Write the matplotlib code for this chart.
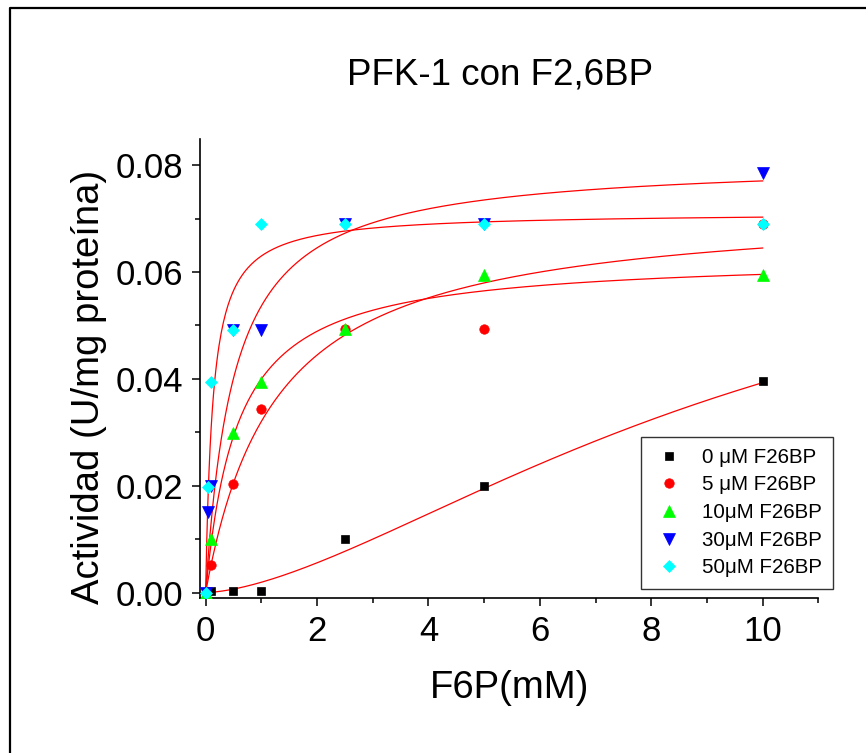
import numpy as np
import matplotlib
matplotlib.use('Agg')
import matplotlib.pyplot as plt
from matplotlib.lines import Line2D

plt.rcParams['font.family'] = ['Liberation Sans', 'DejaVu Sans']

# F6P concentrations (mM) and measured activity for each F2,6BP level
x_main = [0, 0.1, 0.5, 1, 2.5, 5, 10]
x_low = [0, 0.05, 0.1, 0.5, 1, 2.5, 5, 10]

act_0 = [0.0, 0.0003, 0.0003, 0.0003, 0.0101, 0.0199, 0.0396]
act_5 = [0.0, 0.0052, 0.0203, 0.0344, 0.0494, 0.0494, 0.069]
act_10 = [0.0, 0.0101, 0.0299, 0.0395, 0.0494, 0.0594, 0.0594]
act_30 = [0.0, 0.0151, 0.0199, 0.0491, 0.0491, 0.069, 0.069, 0.0786]
act_50 = [0.0, 0.0198, 0.0395, 0.0491, 0.069, 0.069, 0.069, 0.069]

labels = ['0 \u03bcM F26BP', '5 \u03bcM F26BP', '10\u03bcM F26BP',
          '30\u03bcM F26BP', '50\u03bcM F26BP']

# Hill fit parameters (0, 5, 10, 30, 50 uM)
fit_vmax = [0.0786, 0.0727, 0.063, 0.081, 0.0712]
fit_k = [10.0, 1.27, 0.576, 0.51, 0.13]
fit_n = [1.6, 1.0, 1.0, 1.0, 1.0]

fig = plt.figure(figsize=(8.66, 7.53), dpi=100)
ax = fig.add_axes([0.231, 0.206, 0.714, 0.61])

# fitted curves
xx = np.linspace(0, 10, 500)
for v, k, n in zip(fit_vmax, fit_k, fit_n):
    yy = v * xx**n / (k**n + xx**n)
    ax.plot(xx, yy, color='red', lw=0.9, zorder=2)

ax.plot(x_main, act_0, 's', color='black', ms=6, mew=0.5, label=labels[0], zorder=3)
ax.plot(x_main, act_5, 'o', color='red', ms=6.8, mew=0.5, label=labels[1], zorder=3)
ax.plot(x_main, act_10, '^', color='#00ff00', ms=8.5, mew=0.5, label=labels[2], zorder=3)
ax.plot(x_low, act_30, 'v', color='blue', ms=8.5, mew=0.5, label=labels[3], zorder=3)
ax.plot(x_low, act_50, 'D', color='cyan', ms=6.2, mew=0.5, label=labels[4], zorder=3)

ax.set_xlim(-0.1, 11)
ax.set_ylim(-0.001, 0.085)
ax.set_xticks([0, 2, 4, 6, 8, 10])
ax.set_xticks([1, 3, 5, 7, 9, 11], minor=True)
ax.set_yticks([0, 0.02, 0.04, 0.06, 0.08])
ax.set_yticks([0.01, 0.03, 0.05, 0.07], minor=True)
ax.set_yticklabels(['0.00', '0.02', '0.04', '0.06', '0.08'])

for s in ['top', 'right']:
    ax.spines[s].set_visible(False)
for s in ['left', 'bottom']:
    ax.spines[s].set_linewidth(1.2)

ax.tick_params(which='major', length=6, width=1.1, labelsize=25, pad=6)
ax.tick_params(which='minor', length=3.5, width=1.1)

ax.set_xlabel('F6P(mM)', fontsize=27.5, labelpad=16)
ax.set_ylabel('Actividad (U/mg proteína)', fontsize=27.5, labelpad=6)
ax.yaxis.label.set_y(0.46)
fig.text(0.577, 0.9, 'PFK-1 con F2,6BP', fontsize=26.5, ha='center', va='center')

leg = ax.legend(loc='lower right', bbox_to_anchor=(1.024, 0.02), fontsize=14.8,
                frameon=True, fancybox=False, edgecolor='black',
                handletextpad=0.8, labelspacing=0.42, borderpad=0.55,
                handlelength=1.6, borderaxespad=0)
leg.get_frame().set_linewidth(1.0)

# outer frame (left and top edges visible)
fx = 10 / 866
fy = 1 - 8 / 753
fig.add_artist(Line2D([fx, fx, 1], [0, fy, fy], transform=fig.transFigure,
                      color='black', lw=1.6))

fig.savefig('out.png', dpi=100)
